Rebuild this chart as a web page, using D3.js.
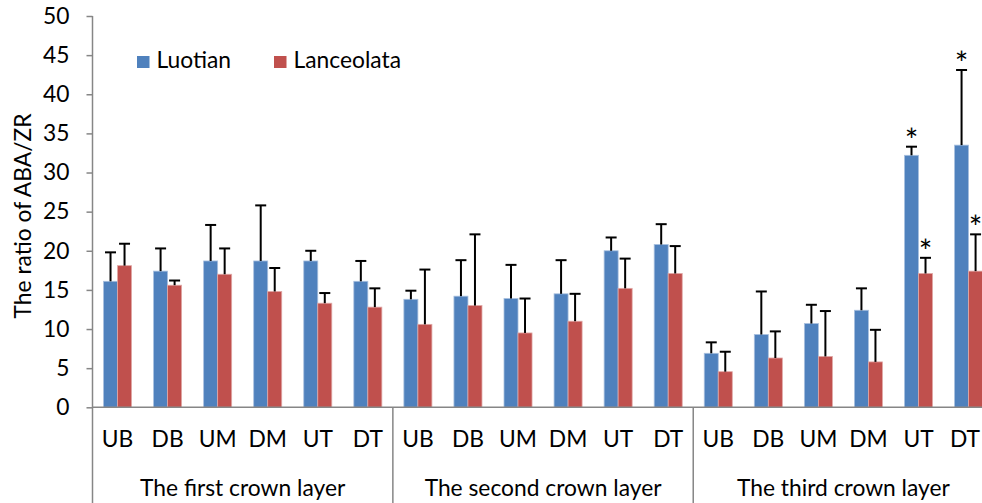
<!DOCTYPE html>
<html>
<head>
<meta charset="utf-8">
<script src="https://cdn.jsdelivr.net/npm/d3@7"></script>
<style>
  html, body { margin: 0; padding: 0; background: #fff; }
  svg { display: block; font-family: Lato, "Open Sans", sans-serif; }
</style>
</head>
<body>
<svg id="chart" width="982" height="503"></svg>
<script>
const groups = ["The first crown layer", "The second crown layer", "The third crown layer"];
const positions = ["UB", "DB", "UM", "DM", "UT", "DT"];
const seriesNames = ["Luotian", "Lanceolata"];
const yTicks = [0, 5, 10, 15, 20, 25, 30, 35, 40, 45, 50];

// values per category (group-major order)
const luotian = [16.1, 17.4, 18.7, 18.7, 18.7, 16.1,
                 13.8, 14.2, 13.9, 14.5, 20.0, 20.8,
                 6.9, 9.3, 10.7, 12.4, 32.2, 33.5];
const luotianErr = [3.7, 2.9, 4.6, 7.1, 1.3, 2.6,
                    1.1, 4.6, 4.3, 4.3, 1.7, 2.6,
                    1.4, 5.5, 2.4, 2.8, 1.1, 9.6];
const lanceolata = [18.1, 15.6, 17.0, 14.8, 13.3, 12.8,
                    10.6, 13.0, 9.5, 11.0, 15.2, 17.1,
                    4.55, 6.3, 6.5, 5.8, 17.1, 17.4];
const lanceolataErr = [2.8, 0.6, 3.3, 3.0, 1.3, 2.4,
                       7.0, 9.1, 4.4, 3.5, 3.8, 3.5,
                       2.55, 3.4, 5.8, 4.1, 2.0, 4.7];
const significant = [[16, 0], [16, 1], [17, 0], [17, 1]]; // [category index, series index]

const colors = ["#4F81BD", "#C0504D"];
const axisColor = "#868686";
const fs = 22.8;

const svg = d3.select("#chart");
const W = 982;
const x0 = 92.5, plotRight = 993.6, yBottom = 407.3, yTop = 16;

const cats = [];
groups.forEach((g, gi) => positions.forEach((p, pi) => cats.push({ key: gi + "-" + p, group: gi, pos: p })));

const x = d3.scaleBand().domain(cats.map(d => d.key)).range([x0, plotRight]).paddingInner(0.44).paddingOuter(0.22);
const xs = d3.scaleBand().domain(seriesNames).range([0, x.bandwidth()]);
const xGroup = d3.scaleBand().domain(groups).range([x0, plotRight]);
const y = d3.scaleLinear().domain([0, 50]).range([yBottom, yTop]);

const data = cats.map((c, i) => ({
  ...c,
  vals: [
    { s: seriesNames[0], v: luotian[i], e: luotianErr[i], si: 0 },
    { s: seriesNames[1], v: lanceolata[i], e: lanceolataErr[i], si: 1 }
  ]
}));

// bars
const catG = svg.append("g").selectAll("g").data(data).join("g")
  .attr("transform", d => `translate(${x(d.key)},0)`);

catG.selectAll("rect").data(d => d.vals).join("rect")
  .attr("x", d => xs(d.s))
  .attr("y", d => y(d.v))
  .attr("width", xs.bandwidth())
  .attr("height", d => y(0) - y(d.v))
  .attr("fill", d => colors[d.si])
  .attr("stroke", d => d.si === 0 ? "#a9c0df" : "#e0a8a6")
  .attr("stroke-width", 0.8);

// error bars
const eb = catG.selectAll("g.err").data(d => d.vals).join("g").attr("class", "err");
eb.append("line")
  .attr("x1", d => xs(d.s) + xs.bandwidth() / 2)
  .attr("x2", d => xs(d.s) + xs.bandwidth() / 2)
  .attr("y1", d => y(d.v))
  .attr("y2", d => y(d.v + d.e))
  .attr("stroke", "#000").attr("stroke-width", 2);
eb.append("line")
  .attr("x1", d => xs(d.s) + xs.bandwidth() / 2 - 5.5)
  .attr("x2", d => xs(d.s) + xs.bandwidth() / 2 + 5.5)
  .attr("y1", d => y(d.v + d.e))
  .attr("y2", d => y(d.v + d.e))
  .attr("stroke", "#000").attr("stroke-width", 2);

// significance asterisks
svg.append("g").selectAll("text").data(significant).join("text")
  .attr("x", d => x(cats[d[0]].key) + xs(seriesNames[d[1]]) + xs.bandwidth() / 2)
  .attr("y", d => {
    const v = d[1] === 0 ? luotian[d[0]] + luotianErr[d[0]] : lanceolata[d[0]] + lanceolataErr[d[0]];
    return y(v) + 5;
  })
  .attr("text-anchor", "middle")
  .attr("font-size", 32)
  .attr("fill", "#000")
  .text("*");

// y axis
const yAxis = d3.axisLeft(y).tickValues(yTicks).tickSize(6).tickPadding(17).tickFormat(d3.format("d"));
const yg = svg.append("g").attr("transform", `translate(${x0},0)`).call(yAxis);
yg.select(".domain").remove();
yg.selectAll(".tick line").attr("stroke", axisColor).attr("stroke-width", 1.5);
yg.selectAll(".tick text").attr("font-size", fs).attr("fill", "#000").attr("font-family", "Lato, sans-serif");
svg.append("line").attr("x1", x0).attr("x2", x0).attr("y1", yTop).attr("y2", 503)
  .attr("stroke", axisColor).attr("stroke-width", 1.5);

// x axis baseline
svg.append("line").attr("x1", x0).attr("x2", plotRight).attr("y1", yBottom).attr("y2", yBottom)
  .attr("stroke", axisColor).attr("stroke-width", 1.5);

// group separators
svg.append("g").selectAll("line").data(groups.slice(1)).join("line")
  .attr("x1", d => xGroup(d)).attr("x2", d => xGroup(d))
  .attr("y1", yBottom).attr("y2", 503)
  .attr("stroke", axisColor).attr("stroke-width", 1.5);

// category labels (kept inside the visible area)
svg.append("g").selectAll("text").data(cats).join("text")
  .attr("y", 447)
  .attr("text-anchor", "middle")
  .attr("font-size", fs)
  .attr("fill", "#000")
  .text(d => d.pos)
  .attr("x", function(d) {
    const c = x(d.key) + x.bandwidth() / 2;
    const half = this.getComputedTextLength() / 2;
    return Math.min(c, W - 2 - half);
  });

// group labels
svg.append("g").selectAll("text").data(groups).join("text")
  .attr("x", d => xGroup(d) + xGroup.bandwidth() / 2)
  .attr("y", 495.5)
  .attr("text-anchor", "middle")
  .attr("font-size", fs)
  .attr("fill", "#000")
  .text(d => d);

// y axis title
svg.append("text")
  .attr("transform", "translate(31,216) rotate(-90)")
  .attr("text-anchor", "middle")
  .attr("font-size", fs)
  .attr("fill", "#000")
  .text("The ratio of ABA/ZR");

// legend
const legendX = [137, 274];
const lg = svg.append("g").selectAll("g").data(seriesNames).join("g")
  .attr("transform", (d, i) => `translate(${legendX[i]},56)`);
lg.append("rect").attr("width", 12.5).attr("height", 12).attr("fill", (d, i) => colors[i]);
lg.append("text").attr("x", 19.5).attr("y", 12.3).attr("font-size", fs).attr("fill", "#000").text(d => d);
</script>
</body>
</html>
